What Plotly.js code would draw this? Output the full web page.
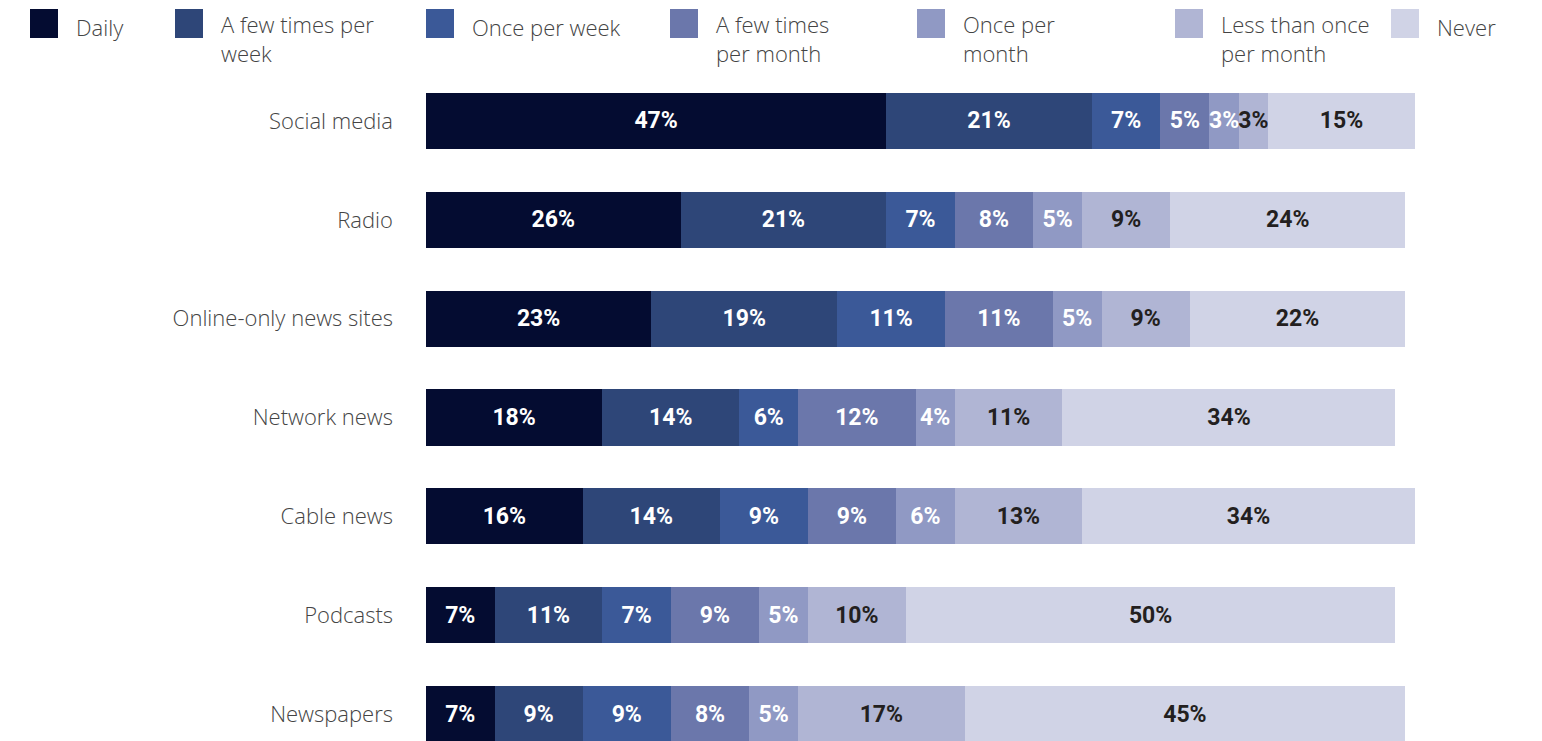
<!DOCTYPE html>
<html>
<head>
<meta charset="utf-8">
<script src="https://cdn.plot.ly/plotly-3.0.1.min.js"></script>
<style>html,body{margin:0;padding:0;background:#fff;}#chart{width:1542px;height:741px;}</style>
</head>
<body>
<div id="chart"></div>
<script>
const categories = ['Social media','Radio','Online-only news sites','Network news','Cable news','Podcasts','Newspapers'];
const seriesNames = ['Daily','A few times per<br>week','Once per week','A few times<br>per month','Once per<br>month','Less than once<br>per month','Never'];
const daily     = [47,26,23,18,16,7,7];
const fewWeek   = [21,21,19,14,14,11,9];
const onceWeek  = [7,7,11,6,9,7,9];
const fewMonth  = [5,8,11,12,9,9,8];
const onceMonth = [3,5,5,4,6,5,5];
const lessMonth = [3,9,9,11,13,10,17];
const never     = [15,24,22,34,34,50,45];

const seriesValues = [daily,fewWeek,onceWeek,fewMonth,onceMonth,lessMonth,never];
const colors = ['#040c31','#2e4678','#3b5998','#6b77ab','#9099c4','#b0b5d4','#d0d3e6'];
const textColors = ['#ffffff','#ffffff','#ffffff','#ffffff','#ffffff','#231f20','#231f20'];
const legendX = [30,175,426,670,917,1175,1391];

const W = 1542, H = 741;
const labelFont = 'Roboto, Liberation Sans Narrow, sans-serif';
const textFont = 'Open Sans, Lato, sans-serif';

const traces = seriesValues.map((vals, i) => ({
  type: 'bar',
  orientation: 'h',
  y: categories,
  x: vals,
  name: seriesNames[i].replace('<br>',' '),
  marker: {color: colors[i], line: {width: 0}},
  text: vals.map(v => v + '%'),
  textposition: 'inside',
  insidetextanchor: 'middle',
  textangle: 0,
  constraintext: 'none',
  textfont: {family: labelFont, size: 23, color: textColors[i], weight: 700},
  hoverinfo: 'none',
  cliponaxis: false
}));

const shapes = [];
const annotations = [];
seriesNames.forEach((n, i) => {
  const x0 = legendX[i];
  shapes.push({type:'rect', xref:'paper', yref:'paper',
    x0: (x0-426)/(1415-426), x1: (x0+28-426)/(1415-426),
    y0: 1 + (60-38)/681, y1: 1 + (60-9)/681,
    fillcolor: colors[i], line:{width:0}});
  const twoLine = n.indexOf('<br>') >= 0;
  annotations.push({xref:'paper', yref:'paper',
    x: (x0+44-426)/(1415-426), y: 1 + (60-(twoLine?7:10))/681,
    xanchor:'left', yanchor:'top', align:'left',
    text: n, showarrow:false,
    font:{family:textFont, size:22, color:'#444444', weight:300}});
});

const layout = {
  width: W, height: H,
  margin: {l: 426, r: 127, t: 60, b: 0},
  paper_bgcolor: '#ffffff', plot_bgcolor: '#ffffff',
  barmode: 'stack',
  bargap: 0.433,
  showlegend: false,
  xaxis: {range: [0, 101], visible: false, fixedrange: true},
  yaxis: {type: 'category', categoryorder: 'array', categoryarray: categories.slice().reverse(),
    range: [-0.273, 6.617], showgrid: false, zeroline: false, showline: false, ticks: '',
    ticklabelstandoff: 32,
    tickfont: {family: textFont, size: 22, color: '#444444', weight: 300}},
  shapes: shapes,
  annotations: annotations,
  font: {family: textFont}
};

Plotly.newPlot('chart', traces, layout, {displayModeBar: false, staticPlot: true});
</script>
</body>
</html>
